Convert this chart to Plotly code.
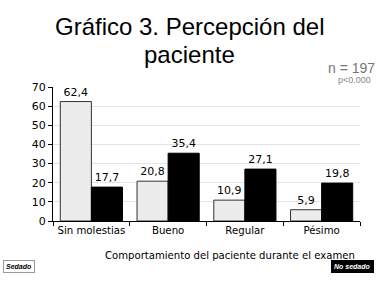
import plotly.graph_objects as go

categories = ["Sin molestias", "Bueno", "Regular", "Pésimo"]
sedado = [62.4, 20.8, 10.9, 5.9]
no_sedado = [17.7, 35.4, 27.1, 19.8]
y_ticks = [0, 10, 20, 30, 40, 50, 60, 70]

def fmt(vals):
    return [f"{v:.1f}".replace(".", ",") for v in vals]

FONT = "DejaVu Sans"

fig = go.Figure()
fig.add_bar(x=categories, y=sedado, name="Sedado",
            marker=dict(color="#ececec", line=dict(color="#333333", width=1)),
            text=fmt(sedado), textposition="outside",
            textfont=dict(family=FONT, size=11, color="black"),
            cliponaxis=False)
fig.add_bar(x=categories, y=no_sedado, name="No sedado",
            marker=dict(color="black", line=dict(color="black", width=1)),
            text=fmt(no_sedado), textposition="outside",
            textfont=dict(family=FONT, size=11, color="black"),
            cliponaxis=False)

fig.update_layout(
    width=386, height=283,
    margin=dict(l=53, r=26, t=87, b=62, autoexpand=False),
    paper_bgcolor="white", plot_bgcolor="white",
    barmode="group", bargap=0.19, bargroupgap=0,
    showlegend=False,
    font=dict(family=FONT, color="black"),
    xaxis=dict(showline=True, linecolor="black", linewidth=1,
               ticks="outside", tickson="boundaries", ticklen=4,
               tickcolor="black", tickfont=dict(size=10.2), tickangle=0,
               automargin=False),
    yaxis=dict(range=[0, 70], tickvals=y_ticks, showline=True,
               linecolor="black", linewidth=1, ticks="outside", ticklen=4,
               tickcolor="black", tickfont=dict(size=11),
               showgrid=True, gridcolor="#e4e4e4", gridwidth=1,
               automargin=False),
    annotations=[
        dict(text="Gráfico 3. Percepción del", x=0.446, y=1.45,
             xref="paper", yref="paper", xanchor="center", yanchor="middle",
             showarrow=False, align="center",
             font=dict(family="Liberation Sans", size=24, color="black")),
        dict(text="paciente", x=0.446, y=1.24,
             xref="paper", yref="paper", xanchor="center", yanchor="middle",
             showarrow=False, align="center",
             font=dict(family="Liberation Sans", size=24, color="black")),
        dict(text="Comportamiento del paciente durante el examen", x=0.99, y=-0.254,
             xref="paper", yref="paper", xanchor="right", yanchor="middle",
             showarrow=False, font=dict(family=FONT, size=10.1, color="black")),
        dict(text="n = 197", x=1.055, y=1.142, xref="paper", yref="paper",
             xanchor="right", yanchor="middle", showarrow=False,
             font=dict(family="Liberation Sans", size=14, color="#777777")),
        dict(text="p<0.000", x=1.042, y=1.052, xref="paper", yref="paper",
             xanchor="right", yanchor="middle", showarrow=False,
             font=dict(family="Liberation Sans", size=9, color="#888888")),
        dict(text="<b><i>Sedado</i></b>", x=-0.163, y=-0.343, xref="paper",
             yref="paper", xanchor="left", yanchor="middle", showarrow=False,
             bgcolor="white", bordercolor="#999999", borderwidth=1, borderpad=2,
             font=dict(family="Liberation Sans", size=7, color="black")),
        dict(text="<b><i>No sedado</i></b>", x=1.046, y=-0.343, xref="paper",
             yref="paper", xanchor="right", yanchor="middle", showarrow=False,
             bgcolor="black", bordercolor="black", borderwidth=1, borderpad=2,
             font=dict(family="Liberation Sans", size=7, color="white")),
    ],
)
fig.write_html("out.html", config={"displayModeBar": False},
               post_script="document.body.style.margin='0';document.body.style.overflow='hidden';")
